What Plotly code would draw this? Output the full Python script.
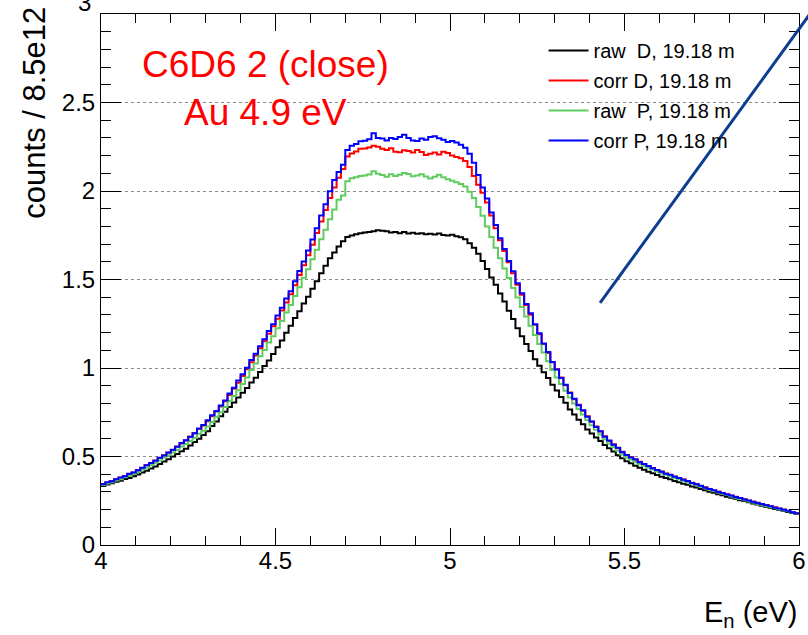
import numpy as np
import plotly.graph_objects as go

# ---------------- data ----------------
e_min, e_max = 4.0, 6.0          # eV, histogram range
n_bins = 160

raw_D = [
    0.333, 0.342, 0.349, 0.357, 0.363, 0.373, 0.379, 0.389, 0.398, 0.410, 0.420, 0.432, 0.444, 0.457, 0.472, 0.485,
    0.500, 0.514, 0.530, 0.544, 0.562, 0.582, 0.600, 0.621, 0.643, 0.672, 0.698, 0.727, 0.753, 0.780, 0.805, 0.833,
    0.860, 0.887, 0.918, 0.945, 0.977, 1.012, 1.043, 1.079, 1.117, 1.156, 1.199, 1.238, 1.282, 1.321, 1.364, 1.403,
    1.448, 1.490, 1.535, 1.577, 1.620, 1.652, 1.686, 1.716, 1.740, 1.748, 1.755, 1.762, 1.765, 1.768, 1.772, 1.778,
    1.776, 1.772, 1.766, 1.769, 1.762, 1.768, 1.760, 1.764, 1.758, 1.762, 1.756, 1.759, 1.754, 1.760, 1.752, 1.749,
    1.753, 1.745, 1.738, 1.728, 1.705, 1.680, 1.645, 1.605, 1.560, 1.512, 1.470, 1.421, 1.376, 1.323, 1.277, 1.224,
    1.180, 1.135, 1.096, 1.050, 1.013, 0.976, 0.944, 0.906, 0.873, 0.836, 0.804, 0.766, 0.737, 0.708, 0.682, 0.653,
    0.630, 0.607, 0.588, 0.565, 0.546, 0.528, 0.507, 0.490, 0.473, 0.462, 0.448, 0.437, 0.425, 0.414, 0.406, 0.395,
    0.386, 0.378, 0.371, 0.361, 0.355, 0.346, 0.340, 0.331, 0.325, 0.316, 0.310, 0.301, 0.295, 0.287, 0.281, 0.273,
    0.267, 0.261, 0.253, 0.248, 0.241, 0.234, 0.229, 0.222, 0.216, 0.211, 0.204, 0.199, 0.193, 0.187, 0.181, 0.175,
]

corr_D = [
    0.344, 0.352, 0.361, 0.371, 0.380, 0.389, 0.401, 0.410, 0.424, 0.435, 0.450, 0.461, 0.477, 0.491, 0.507, 0.521,
    0.537, 0.556, 0.574, 0.590, 0.611, 0.631, 0.655, 0.675, 0.699, 0.727, 0.754, 0.782, 0.812, 0.847, 0.883, 0.917,
    0.955, 0.993, 1.032, 1.071, 1.111, 1.151, 1.194, 1.236, 1.278, 1.325, 1.370, 1.417, 1.468, 1.525, 1.580, 1.637,
    1.697, 1.763, 1.828, 1.893, 1.960, 2.020, 2.075, 2.125, 2.195, 2.212, 2.223, 2.238, 2.240, 2.246, 2.256, 2.250,
    2.238, 2.232, 2.242, 2.222, 2.219, 2.230, 2.226, 2.218, 2.232, 2.221, 2.203, 2.210, 2.218, 2.206, 2.222, 2.214,
    2.200, 2.192, 2.185, 2.170, 2.135, 2.085, 2.035, 1.990, 1.935, 1.862, 1.790, 1.722, 1.661, 1.598, 1.535, 1.471,
    1.414, 1.356, 1.301, 1.245, 1.190, 1.136, 1.085, 1.032, 0.993, 0.946, 0.903, 0.862, 0.824, 0.792, 0.758, 0.727,
    0.696, 0.670, 0.641, 0.615, 0.588, 0.569, 0.546, 0.527, 0.507, 0.496, 0.482, 0.470, 0.455, 0.446, 0.435, 0.422,
    0.415, 0.404, 0.395, 0.387, 0.377, 0.370, 0.359, 0.352, 0.344, 0.333, 0.326, 0.316, 0.308, 0.302, 0.292, 0.287,
    0.278, 0.272, 0.264, 0.258, 0.250, 0.244, 0.239, 0.230, 0.226, 0.218, 0.213, 0.205, 0.200, 0.192, 0.187, 0.178,
]

raw_P = [
    0.339, 0.348, 0.355, 0.365, 0.372, 0.383, 0.390, 0.401, 0.412, 0.426, 0.437, 0.451, 0.464, 0.478, 0.494, 0.507,
    0.523, 0.537, 0.556, 0.570, 0.588, 0.606, 0.628, 0.645, 0.670, 0.695, 0.725, 0.750, 0.780, 0.814, 0.842, 0.875,
    0.910, 0.947, 0.989, 1.025, 1.066, 1.102, 1.144, 1.180, 1.224, 1.266, 1.314, 1.356, 1.407, 1.456, 1.510, 1.558,
    1.614, 1.668, 1.728, 1.781, 1.840, 1.895, 1.950, 1.975, 2.055, 2.072, 2.078, 2.085, 2.088, 2.093, 2.112, 2.098,
    2.090, 2.081, 2.094, 2.085, 2.092, 2.101, 2.096, 2.084, 2.088, 2.095, 2.082, 2.071, 2.080, 2.092, 2.078, 2.066,
    2.058, 2.050, 2.040, 2.025, 1.996, 1.960, 1.910, 1.860, 1.800, 1.740, 1.680, 1.620, 1.562, 1.508, 1.452, 1.398,
    1.344, 1.291, 1.239, 1.186, 1.136, 1.087, 1.038, 0.989, 0.946, 0.909, 0.871, 0.834, 0.799, 0.768, 0.737, 0.706,
    0.677, 0.651, 0.624, 0.598, 0.574, 0.553, 0.532, 0.511, 0.494, 0.482, 0.470, 0.458, 0.447, 0.436, 0.426, 0.415,
    0.406, 0.397, 0.388, 0.379, 0.371, 0.363, 0.354, 0.346, 0.338, 0.329, 0.321, 0.312, 0.304, 0.297, 0.289, 0.282,
    0.274, 0.267, 0.260, 0.253, 0.246, 0.240, 0.233, 0.227, 0.221, 0.215, 0.208, 0.202, 0.196, 0.190, 0.184, 0.178,
]

corr_P = [
    0.343, 0.354, 0.360, 0.372, 0.381, 0.388, 0.402, 0.409, 0.423, 0.436, 0.451, 0.463, 0.476, 0.493, 0.506, 0.523,
    0.538, 0.555, 0.576, 0.592, 0.612, 0.632, 0.658, 0.678, 0.705, 0.733, 0.757, 0.788, 0.817, 0.856, 0.889, 0.929,
    0.965, 1.001, 1.045, 1.080, 1.123, 1.162, 1.209, 1.247, 1.296, 1.340, 1.392, 1.434, 1.490, 1.548, 1.602, 1.664,
    1.726, 1.790, 1.862, 1.925, 1.998, 2.062, 2.108, 2.148, 2.232, 2.255, 2.266, 2.281, 2.284, 2.292, 2.326, 2.300,
    2.296, 2.285, 2.300, 2.294, 2.305, 2.318, 2.299, 2.285, 2.282, 2.296, 2.290, 2.305, 2.310, 2.298, 2.290, 2.277,
    2.282, 2.274, 2.262, 2.245, 2.210, 2.160, 2.090, 2.020, 1.958, 1.878, 1.808, 1.733, 1.672, 1.604, 1.547, 1.479,
    1.423, 1.362, 1.309, 1.247, 1.196, 1.139, 1.091, 1.034, 0.991, 0.944, 0.906, 0.859, 0.826, 0.789, 0.761, 0.724,
    0.698, 0.667, 0.643, 0.612, 0.590, 0.566, 0.549, 0.524, 0.509, 0.494, 0.484, 0.468, 0.457, 0.447, 0.433, 0.424,
    0.414, 0.403, 0.397, 0.385, 0.379, 0.368, 0.361, 0.350, 0.343, 0.335, 0.324, 0.317, 0.309, 0.300, 0.294, 0.285,
    0.279, 0.271, 0.265, 0.257, 0.251, 0.245, 0.237, 0.232, 0.225, 0.219, 0.211, 0.206, 0.199, 0.193, 0.185, 0.180,
]

series_names = ["raw\u00a0 D, 19.18 m", "corr D, 19.18 m", "raw\u00a0 P, 19.18 m", "corr P, 19.18 m"]
series_values = [raw_D, corr_D, raw_P, corr_P]
series_colors = ["#000000", "#ff0000", "#5fcc5f", "#0000ff"]

x_tick_vals = [4, 4.5, 5, 5.5, 6]
x_tick_text = ["4", "4.5", "5", "5.5", "6"]
y_tick_vals = [0, 0.5, 1, 1.5, 2, 2.5]
y_tick_text = ["0", "0.5", "1", "1.5", "2", "2.5"]

# ---------------- figure ----------------
FONT = "Liberation Sans, Arial, Helvetica, sans-serif"
edges = np.linspace(e_min, e_max, n_bins + 1)

fig = go.Figure()
for name, vals, col in zip(series_names, series_values, series_colors):
    assert len(vals) == n_bins
    fig.add_trace(go.Scatter(
        x=edges, y=list(vals) + [vals[-1]],
        mode="lines", line=dict(shape="hv", color=col, width=2),
        name=name, legendgroup=name,
    ))

fig.update_layout(
    width=808, height=635,
    margin=dict(l=101, r=9, t=14, b=90, autoexpand=False),
    paper_bgcolor="white", plot_bgcolor="white",
    font=dict(family=FONT, color="black"),
    showlegend=True,
    legend=dict(x=0.634, y=0.968, xanchor="left", yanchor="top",
                bgcolor="rgba(0,0,0,0)", font=dict(size=20, family=FONT),
                tracegroupgap=1, itemwidth=40),
)

fig.update_xaxes(
    range=[e_min, e_max], tickmode="array", tickvals=x_tick_vals, ticktext=x_tick_text,
    ticks="inside", ticklen=17, tickwidth=1, tickcolor="black",
    showline=True, linecolor="black", linewidth=1, mirror="allticks",
    showgrid=False, zeroline=False,
    tickfont=dict(size=24, family=FONT),
    minor=dict(tickmode="linear", tick0=4, dtick=0.1, ticks="inside", ticklen=9,
               tickwidth=1, tickcolor="black", showgrid=False),
)
fig.update_yaxes(
    range=[0, 3], tickmode="array", tickvals=y_tick_vals, ticktext=y_tick_text,
    ticks="inside", ticklen=20, tickwidth=1, tickcolor="black",
    showline=True, linecolor="black", linewidth=1, mirror="allticks",
    showgrid=True, griddash="dot", gridcolor="#8a8a8a", gridwidth=1, zeroline=False,
    tickfont=dict(size=24, family=FONT),
    minor=dict(tickmode="linear", tick0=0, dtick=0.1, ticks="inside", ticklen=10,
               tickwidth=1, tickcolor="black", showgrid=False),
)
try:
    fig.update_xaxes(ticklabelstandoff=-6)
except Exception:
    pass

annotations = [
    dict(text="C6D6 2 (close)", x=0.236, y=0.904, xref="paper", yref="paper",
         xanchor="center", yanchor="middle", showarrow=False,
         font=dict(size=37, color="#ff0000", family=FONT)),
    dict(text="Au 4.9 eV", x=0.236, y=0.815, xref="paper", yref="paper",
         xanchor="center", yanchor="middle", showarrow=False,
         font=dict(size=37, color="#ff0000", family=FONT)),
    dict(text="counts / 8.5e12", x=-0.095, y=1.017, xref="paper", yref="paper",
         xanchor="center", yanchor="top", textangle=-90, showarrow=False,
         font=dict(size=31, family=FONT)),
    dict(text="E<sub>n</sub> (eV)", x=1.0, y=-0.130, xref="paper", yref="paper",
         xanchor="right", yanchor="middle", showarrow=False,
         font=dict(size=29, family=FONT)),
    dict(text="3", x=-0.0115, y=1.0, xref="paper", yref="paper",
         xanchor="right", yanchor="middle", yshift=12, showarrow=False,
         font=dict(size=24, family=FONT)),
]
fig.update_layout(annotations=annotations)

fig.add_shape(type="line", xref="paper", yref="paper",
              x0=0.715, y0=0.456, x1=1.03, y1=1.026,
              line=dict(color="#0b3d91", width=3), layer="above")

fig.write_html("out.html", config={"displayModeBar": False},
               post_script="document.body.style.margin='0px';")
